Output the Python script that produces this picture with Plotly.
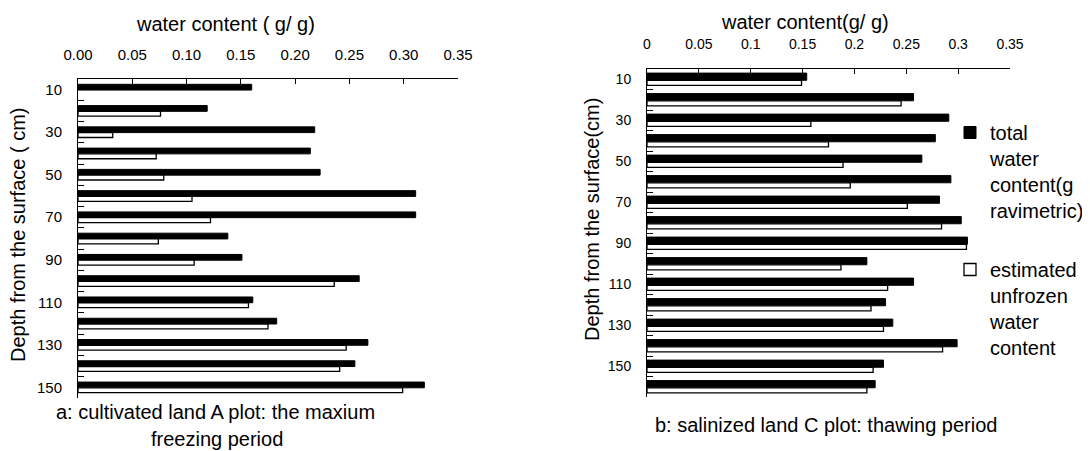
import plotly.graph_objects as go

# ---------------- data ----------------
depth_a = [10, 20, 30, 40, 50, 60, 70, 80, 90, 100, 110, 120, 130, 140, 150]
total_a = [0.160, 0.119, 0.218, 0.214, 0.223, 0.311, 0.311, 0.138, 0.151,
           0.259, 0.161, 0.183, 0.267, 0.255, 0.319]
unfrozen_a = [None, 0.076, 0.032, 0.072, 0.079, 0.105, 0.122, 0.074, 0.107,
              0.236, 0.157, 0.175, 0.247, 0.241, 0.299]

depth_b = [10, 20, 30, 40, 50, 60, 70, 80, 90, 100, 110, 120, 130, 140, 150, 160]
total_b = [0.154, 0.257, 0.291, 0.278, 0.265, 0.293, 0.282, 0.303, 0.309,
           0.212, 0.257, 0.230, 0.237, 0.299, 0.228, 0.220]
unfrozen_b = [0.149, 0.245, 0.158, 0.175, 0.189, 0.196, 0.251, 0.284, 0.308,
              0.187, 0.232, 0.216, 0.228, 0.285, 0.218, 0.212]

x_ticks_a = [0.00, 0.05, 0.10, 0.15, 0.20, 0.25, 0.30, 0.35]
x_ticks_b = [0, 0.05, 0.1, 0.15, 0.2, 0.25, 0.3, 0.35]
y_labels_a = [10, 30, 50, 70, 90, 110, 130, 150]
y_labels_b = [10, 30, 50, 70, 90, 110, 130, 150]
y_bounds_a = [5, 15, 25, 35, 45, 55, 65, 75, 85, 95, 105, 115, 125, 135, 145, 155]
y_bounds_b = [5, 15, 25, 35, 45, 55, 65, 75, 85, 95, 105, 115, 125, 135, 145, 155, 165]

legend_total = "total<br>water<br>content(g<br>ravimetric)"
legend_unfrozen = "estimated<br>unfrozen<br>water<br>content"

FONT = "Liberation Sans, Arial, sans-serif"

# page body has an 8px margin: size the figure so it fills the window
OFF = 8
W, H = 1090 - OFF, 451 - OFF


def px(x):
    return (x - OFF) / W


def py(y):
    return 1 - (y - OFF) / H


fig = go.Figure()

# panel a
fig.add_trace(go.Bar(y=depth_a, x=total_a, orientation="h", xaxis="x", yaxis="y",
                     marker=dict(color="black", line=dict(color="black", width=1)),
                     width=2.7, offset=-2.5, name=legend_total,
                     legendgroup="g1", showlegend=False))
fig.add_trace(go.Bar(y=depth_a, x=unfrozen_a, orientation="h", xaxis="x", yaxis="y",
                     marker=dict(color="white", line=dict(color="black", width=1.3)),
                     width=2.3, offset=0.2, name=legend_unfrozen,
                     legendgroup="g2", showlegend=False))
# panel b
fig.add_trace(go.Bar(y=depth_b, x=total_b, orientation="h", xaxis="x2", yaxis="y2",
                     marker=dict(color="black", line=dict(color="black", width=1)),
                     width=3.5, offset=-3.0, name=legend_total,
                     legendgroup="g1", showlegend=True))
fig.add_trace(go.Bar(y=depth_b, x=unfrozen_b, orientation="h", xaxis="x2", yaxis="y2",
                     marker=dict(color="white", line=dict(color="black", width=1.3)),
                     width=2.5, offset=0.5, name=legend_unfrozen,
                     legendgroup="g2", showlegend=True))

xcommon = dict(side="top", showline=True, linecolor="black", linewidth=1,
               ticks="inside", ticklen=5, tickcolor="black", showgrid=False,
               zeroline=False, range=[0, 0.35], tickmode="array",
               automargin=False)
ycommon = dict(showline=True, linecolor="black", linewidth=1, showgrid=False,
               zeroline=False, ticks="inside", ticklen=0, tickmode="array",
               ticklabelstandoff=12, automargin=False)

fig.update_layout(
    width=W, height=H,
    margin=dict(l=0, r=0, t=0, b=0, autoexpand=False),
    paper_bgcolor="white", plot_bgcolor="white",
    font=dict(family=FONT, color="black"),
    barmode="overlay",
    xaxis=dict(domain=[px(78), px(458)], anchor="y", tickvals=x_ticks_a,
               tickformat=".2f", tickfont=dict(size=15), ticklabelstandoff=12,
               **xcommon),
    yaxis=dict(domain=[py(398), py(79)], anchor="x", range=[155, 5],
               tickvals=y_labels_a, tickfont=dict(size=15),
               minor=dict(tickmode="array", tickvals=y_bounds_a, ticks="inside",
                          ticklen=6, tickcolor="black", tickwidth=1), **ycommon),
    xaxis2=dict(domain=[px(647), px(1010)], anchor="y2", tickvals=x_ticks_b,
                tickfont=dict(size=14), ticklabelstandoff=13, **xcommon),
    yaxis2=dict(domain=[py(397), py(69)], anchor="x2", range=[165, 5],
                tickvals=y_labels_b, tickfont=dict(size=14),
                minor=dict(tickmode="array", tickvals=y_bounds_b, ticks="inside",
                           ticklen=6, tickcolor="black", tickwidth=1), **ycommon),
    legend=dict(x=px(950), y=py(113), xanchor="left", yanchor="top",
                font=dict(size=20), valign="top", tracegroupgap=30,
                bgcolor="rgba(0,0,0,0)", itemclick=False),
    showlegend=True,
)

ann = [
    dict(text="water content ( g/ g)", x=px(225), y=py(24), font=dict(size=20)),
    dict(text="water content(g/ g)", x=px(805), y=py(22), font=dict(size=20)),
    dict(text="Depth from the surface ( cm)", x=px(18), y=py(235),
         textangle=-90, font=dict(size=20)),
    dict(text="Depth from the surface(cm)", x=px(592), y=py(220),
         textangle=-90, font=dict(size=20)),
    dict(text="a: cultivated land A plot: the maxium",
         x=px(215), y=py(412), font=dict(size=20)),
    dict(text="freezing period",
         x=px(217), y=py(439), font=dict(size=20)),
    dict(text="b: salinized land C plot: thawing period",
         x=px(826), y=py(425), font=dict(size=20)),
]
for a in ann:
    a.update(xref="paper", yref="paper", xanchor="center", yanchor="middle",
             showarrow=False)
    fig.add_annotation(**a)

fig.write_html("out.html")
